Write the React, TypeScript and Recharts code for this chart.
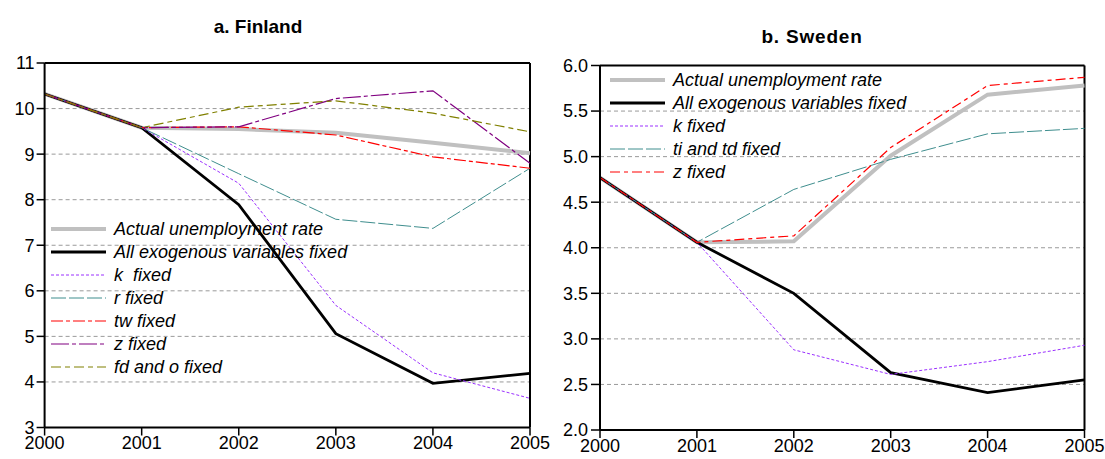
import React from 'react';
import { LineChart, Line, XAxis, YAxis, CartesianGrid, ReferenceLine } from 'recharts';

const years = [2000, 2001, 2002, 2003, 2004, 2005];

// Finland
const fiActual = [10.32, 9.58, 9.55, 9.47, 9.25, 9.02];
const fiAllFixed = [10.32, 9.58, 7.89, 5.06, 3.97, 4.19];
const fiK = [10.32, 9.58, 8.36, 5.68, 4.2, 3.64];
const fiR = [10.32, 9.58, 8.57, 7.57, 7.37, 8.69];
const fiTw = [10.32, 9.58, 9.6, 9.42, 8.94, 8.69];
const fiZ = [10.32, 9.58, 9.6, 10.22, 10.39, 8.8];
const fiFdO = [10.32, 9.58, 10.03, 10.17, 9.9, 9.49];
const fiTicks = [3, 4, 5, 6, 7, 8, 9, 10, 11];

// Sweden
const seActual = [4.77, 4.06, 4.07, 5.01, 5.68, 5.78];
const seAllFixed = [4.77, 4.06, 3.5, 2.63, 2.41, 2.55];
const seK = [4.77, 4.06, 2.88, 2.61, 2.75, 2.93];
const seTiTd = [4.77, 4.06, 4.64, 4.97, 5.25, 5.31];
const seZ = [4.77, 4.06, 4.13, 5.1, 5.78, 5.87];
const seTicks = [2.0, 2.5, 3.0, 3.5, 4.0, 4.5, 5.0, 5.5, 6.0];

type Series = { key: string; name: string; values: number[]; color: string; width: number; dash?: string };

const fiSeries: Series[] = [
  { key: 'actual', name: 'Actual unemployment rate', values: fiActual, color: '#C0C0C0', width: 4 },
  { key: 'all', name: 'All exogenous variables fixed', values: fiAllFixed, color: '#000000', width: 2.8 },
  { key: 'k', name: 'k  fixed', values: fiK, color: '#9B30FF', width: 1, dash: '3 2' },
  { key: 'r', name: 'r fixed', values: fiR, color: '#3F8E8E', width: 1, dash: '15 3' },
  { key: 'tw', name: 'tw fixed', values: fiTw, color: '#FF0000', width: 1.2, dash: '12 3 4 3' },
  { key: 'z', name: 'z fixed', values: fiZ, color: '#800080', width: 1.2, dash: '18 3 4 3' },
  { key: 'fdo', name: 'fd and o fixed', values: fiFdO, color: '#808000', width: 1.2, dash: '10 4 5 4' },
];

const seSeries: Series[] = [
  { key: 'actual', name: 'Actual unemployment rate', values: seActual, color: '#C0C0C0', width: 4 },
  { key: 'all', name: 'All exogenous variables fixed', values: seAllFixed, color: '#000000', width: 2.8 },
  { key: 'k', name: 'k fixed', values: seK, color: '#9B30FF', width: 1, dash: '3 2' },
  { key: 'ti', name: 'ti and td fixed', values: seTiTd, color: '#3F8E8E', width: 1, dash: '15 3' },
  { key: 'z', name: 'z fixed', values: seZ, color: '#FF0000', width: 1.2, dash: '10 4 4 4' },
];

const FONT = '"Liberation Sans", Arial, Helvetica, sans-serif';

function toRows(series: Series[]) {
  return years.map((y, i) => {
    const r: Record<string, number> = { year: y };
    series.forEach((s) => {
      r[s.key] = s.values[i];
    });
    return r;
  });
}

function LegendBox({ series, left, top }: { series: Series[]; left: number; top: number }) {
  return (
    <div style={{ position: 'absolute', left, top, pointerEvents: 'none' }}>
      {series.map((s) => (
        <div key={s.key} style={{ display: 'flex', alignItems: 'center', height: 23 }}>
          <svg width={55} height={8} style={{ display: 'block' }}>
            <line x1={0} y1={4} x2={55} y2={4} stroke={s.color} strokeWidth={s.width} strokeDasharray={s.dash} />
          </svg>
          <span
            style={{
              marginLeft: 8,
              fontStyle: 'italic',
              fontSize: 18,
              fontFamily: FONT,
              lineHeight: '23px',
              whiteSpace: 'pre',
              color: '#000',
            }}
          >
            {s.name}
          </span>
        </div>
      ))}
    </div>
  );
}

const tickStyle = { fontSize: 18, fill: '#000', fontFamily: FONT };

function Panel({
  series,
  width,
  height,
  margin,
  yWidth,
  domain,
  ticks,
  fmt,
  ySize,
  yMargin,
}: {
  series: Series[];
  width: number;
  height: number;
  margin: { top: number; right: number; bottom: number; left: number };
  yWidth: number;
  domain: [number, number];
  ticks: number[];
  fmt?: (v: number) => string;
  ySize: number;
  yMargin: number;
}) {
  const data = toRows(series);
  return (
    <LineChart width={width} height={height} data={data} margin={margin}>
      <CartesianGrid horizontal vertical={false} stroke="#9a9a9a" strokeDasharray="4 3" />
      <XAxis
        dataKey="year"
        type="number"
        domain={[2000, 2005]}
        ticks={years}
        interval={0}
        height={30}
        tickSize={8}
        tickMargin={1}
        tick={tickStyle}
        axisLine={{ stroke: '#000', strokeWidth: 2 }}
        tickLine={{ stroke: '#000', strokeWidth: 1.5 }}
      />
      <YAxis
        type="number"
        domain={domain}
        ticks={ticks}
        interval={0}
        width={yWidth}
        tickSize={ySize}
        tickMargin={yMargin}
        tick={tickStyle}
        tickFormatter={fmt}
        axisLine={{ stroke: '#000', strokeWidth: 2 }}
        tickLine={{ stroke: '#000', strokeWidth: 1.5 }}
      />
      <ReferenceLine y={domain[1]} stroke="#000" strokeWidth={2} />
      <ReferenceLine x={2005} stroke="#000" strokeWidth={2} />
      {series.map((s) => (
        <Line
          key={s.key}
          dataKey={s.key}
          name={s.name}
          type="linear"
          stroke={s.color}
          strokeWidth={s.width}
          strokeDasharray={s.dash}
          dot={false}
          activeDot={false}
          isAnimationActive={false}
        />
      ))}
    </LineChart>
  );
}

export default function App() {
  return (
    <div
      style={{
        position: 'absolute',
        left: 0,
        top: 0,
        width: 1105,
        height: 459,
        background: '#fff',
        overflow: 'hidden',
        fontFamily: FONT,
      }}
    >
      <div style={{ position: 'absolute', left: 0, top: 0 }}>
        <Panel
          series={fiSeries}
          width={560}
          height={459}
          margin={{ top: 63, right: 30, bottom: 1.5, left: 0 }}
          yWidth={44.6}
          domain={[3, 11]}
          ticks={fiTicks}
          ySize={8}
          yMargin={2}
        />
      </div>
      <div style={{ position: 'absolute', left: 550, top: 0 }}>
        <Panel
          series={seSeries}
          width={555}
          height={459}
          margin={{ top: 65.5, right: 20.5, bottom: -1, left: 0 }}
          yWidth={50}
          domain={[2, 6]}
          ticks={seTicks}
          fmt={(v: number) => v.toFixed(1)}
          ySize={9}
          yMargin={3}
        />
      </div>
      <div
        style={{
          position: 'absolute',
          left: 158,
          top: 17,
          width: 200,
          textAlign: 'center',
          fontWeight: 'bold',
          fontSize: 19,
          lineHeight: '19px',
          color: '#000',
        }}
      >
        a. Finland
      </div>
      <div
        style={{
          position: 'absolute',
          left: 712,
          top: 26.5,
          width: 200,
          textAlign: 'center',
          fontWeight: 'bold',
          fontSize: 19,
          lineHeight: '19px',
          letterSpacing: 0.8,
          color: '#000',
        }}
      >
        b. Sweden
      </div>
      <LegendBox series={fiSeries} left={51} top={217.5} />
      <LegendBox series={seSeries} left={610} top={68.5} />
    </div>
  );
}
